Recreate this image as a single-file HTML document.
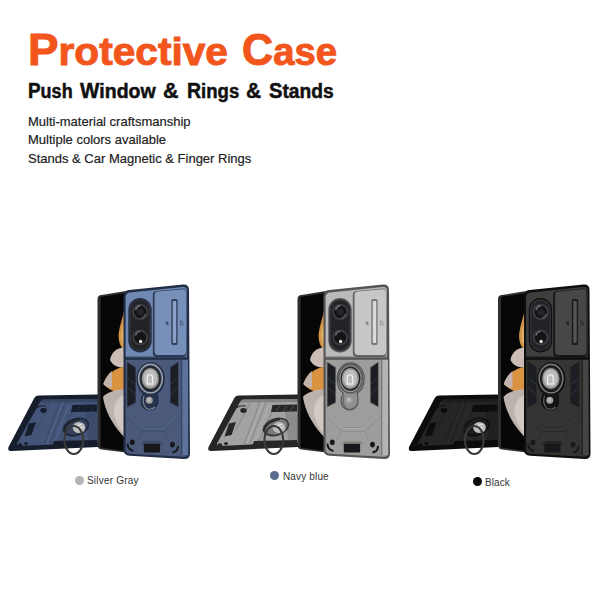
<!DOCTYPE html>
<html><head><meta charset="utf-8">
<style>
html,body{margin:0;padding:0;background:#fff;}
body{width:600px;height:600px;position:relative;overflow:hidden;font-family:"Liberation Sans",sans-serif;}
.t{position:absolute;white-space:nowrap;transform-origin:0 0;}
.h1{top:21.5px;font-size:39.5px;font-weight:bold;color:#f2561d;line-height:56px;-webkit-text-stroke:1px #f2561d;}
.cp{font-size:44.5px;}
.h2{top:77px;font-size:20.3px;font-weight:bold;color:#111;line-height:28px;-webkit-text-stroke:.5px #111;}
.cp2{font-size:21.3px;}
.l{left:28px;font-size:13px;color:#222;line-height:16px;-webkit-text-stroke:.2px #222;}
.lab{font-size:10px;color:#333;line-height:12px;}
.dot{position:absolute;width:9px;height:9px;border-radius:50%;}
svg{position:absolute;left:0;top:0;}
</style></head><body>
<div class="t h1" style="left:27.94px;transform:scaleX(1.0288)"><span class=cp>P</span>rotective</div>
<div class="t h1" style="left:241.53px;transform:scaleX(0.9688)"><span class=cp>C</span>ase</div>
<div class="t h2" style="left:27.61px;transform:scaleX(0.8878)"><span class=cp2>P</span>ush</div>
<div class="t h2" style="left:80.4px;transform:scaleX(0.962)"><span class=cp2>W</span>indow</div>
<div class="t h2" style="left:163.19px;transform:scaleX(1.0071)"><span class=cp2>&amp;</span></div>
<div class="t h2" style="left:186.58px;transform:scaleX(0.9152)"><span class=cp2>R</span>ings</div>
<div class="t h2" style="left:245.72px;transform:scaleX(0.9786)"><span class=cp2>&amp;</span></div>
<div class="t h2" style="left:268.75px;transform:scaleX(0.9463)"><span class=cp2>S</span>tands</div>
<div class="t l" style="top:113.5px">Multi-material craftsmanship</div>
<div class="t l" style="top:131.5px">Multiple colors available</div>
<div class="t l" style="top:150.5px">Stands &amp; Car Magnetic &amp; Finger Rings</div>

<svg width="600" height="600" viewBox="0 0 600 600">
<defs>
<clipPath id="scr"><path d="M99,297 L124,293 L124,451 L99,448.5 Z"/></clipPath>
<clipPath id="cs"><path d="M129,290.5 L183,285 Q188.5,284.5 188.5,290 L189.5,453.5 Q189.5,459 184,458.8 L129.5,455.5 Q124,455 124,449.5 L124,296.5 Q124,291 129,290.5 Z"/></clipPath>
<clipPath id="ly"><path d="M38.5,395.5 L98,394.5 L98,447 L12,451 Q7,451.2 8.5,447 L34,398.5 Q35.5,395.5 38.5,395.5 Z"/></clipPath>
</defs>
<g>
  <!-- ===== lying phone ===== -->
  <g clip-path="url(#ly)">
    <rect x="0" y="390" width="100" height="65" fill="#161d2d"/>
    <path d="M43.5,399.5 L98,399 L98,442.5 L19.5,446 Q16,446 17.5,442.5 L40,402 Q41.5,399.5 43.5,399.5 Z" fill="#45557a"/>
    <path d="M42,399.5 L98,399 L98,402 L40.5,402.5 Z" fill="#34425f" opacity=".8"/>
    <!-- diagonal stripes -->
    <path d="M60,402 L44,444 M66,402 L50,443 M72,412 L58,443 M50,403 L36,430" stroke="#34425f" stroke-width="1.1" opacity=".6" fill="none"/>
    <path d="M63,402 L47,444 M69,405 L54,443" stroke="#6c80a6" stroke-width=".8" opacity=".5" fill="none"/>
    <path d="M72.5,405 L97,404.5 L97,411.5 L71,412 Z" fill="#161d2d"/>
    <path d="M76,411 L80,406 M83,411 L87,406 M90,411 L94,406" stroke="#34425f" stroke-width=".8" opacity=".7"/>
    <path d="M85,412 L97,412 L97,440 L88,440 Z" fill="#34425f" opacity=".55"/>
    <ellipse cx="43.5" cy="410.5" rx="3.2" ry="2.4" fill="#161d2d"/>
    <path d="M36,408 Q40,405 46,406" stroke="#161d2d" stroke-width="1.2" fill="none"/>
    <path d="M29,423.5 L36,422 L31.5,435 L24.5,436.5 Z" fill="#161d2d"/>
    <ellipse cx="20" cy="445" rx="2.3" ry="1.8" fill="#161d2d"/>
    <ellipse cx="26" cy="443.5" rx="2" ry="1.6" fill="#161d2d"/>
    <path d="M54,441 L97,440 L97,447 L52,447 Z" fill="#161d2d"/>
    <!-- ring mount -->
    <ellipse cx="76" cy="427" rx="13.5" ry="9" transform="rotate(-18 76 427)" fill="#161d2d" opacity=".85"/>
    <ellipse cx="76.5" cy="427" rx="11.5" ry="7.3" transform="rotate(-18 76 427)" fill="#34425f"/>
    <ellipse cx="79" cy="427.5" rx="6.3" ry="5.5" fill="#bcbcbc"/>
    <path d="M76,426 L82,424 M76.5,429 L82.5,427.5" stroke="#eee" stroke-width=".9"/>
    <path d="M63,431 Q68,421 80,419" stroke="#222" stroke-width="1.5" fill="none"/>
  </g>
  <ellipse cx="73.8" cy="440" rx="9.4" ry="14" fill="none" stroke="#3a3a3a" stroke-width="2.1"/>
  <!-- ===== back folded phone ===== -->
  <path d="M101.5,295 L126,291 L126,452.5 L101.5,449.5 Q97.5,449 97.5,445 L97.5,299 Q97.5,295.3 101.5,295 Z" fill="#2e2e2e"/>
  <path d="M100.5,297 L126,293 L126,451 L100.5,447.5 Z" fill="#060606"/>
  <g clip-path="url(#scr)">
    <path d="M124,311 C122.5,318 119.5,326 118.6,334 C118.2,342 120.8,347 124,350 Z" fill="#cf9447"/>
    <path d="M124,322 C122.5,327 121.3,331 121.3,336 C121.5,341 122.5,344 124,346 Z" fill="#e2b06a"/>
    <path d="M124,347.5 C117,347.5 111,352.5 110,360 C113,366 118,367.5 124,367.5 Z" fill="#cbbdb6"/>
    <path d="M124,367 C115,368 107,374 103.3,384 C109,390 116,393 124,393 Z" fill="#d9923f"/>
    <path d="M112,371 C108,374 105,379 103.3,384 C106,387 109,388 112,388 Z" fill="#c2b4ad"/>
    <path d="M124,389 C113,390 106,393 103,397 C105,410 111,423 124,437 Z" fill="#bdb3ae"/>
    <path d="M124,395 C117,398 113,405 114,414 C117,424 120,430 124,434 Z" fill="#d2c9c5"/>
  </g>
  <!-- ===== case ===== -->
  <path d="M129,290 L183,284.5 Q189,284 189,290 L190,453.5 Q190,459.3 184,459.1 L129.5,455.8 Q123.5,455.3 123.5,449.5 L123.5,296.5 Q123.5,290.5 129,290 Z" fill="#222e47"/>
  <g clip-path="url(#cs)">
    <path d="M130,292.5 L182.5,287 Q187,286.6 187,290.5 L187,358 L125.6,358 L125.6,297.5 Q125.6,293 130,292.5 Z" fill="#7089b3"/>
    <path d="M125.6,359.5 L187.5,359.5 L188,453 Q188,457 184,456.8 L130,453.8 Q125.6,453.4 125.6,449 Z" fill="#4b5a7a"/>
    <path d="M182,359.5 L188,359.5 L188.2,455 L182,455 Z" fill="#5e739b"/>
    <path d="M181.3,359.5 L182.3,359.5 L182.3,455 L181.3,455 Z" fill="#222e47" opacity=".7"/>
  </g>
  <!-- slider window -->
  <path d="M157,291 L182.5,288.5 Q186.5,288.2 186.5,292 L186.5,353 Q186.5,357 182.5,357 L157,357 Q152.8,357 152.8,353 L152.8,295 Q152.8,291.3 157,291 Z" fill="#222e47" opacity=".85"/>
  <path d="M158,291.5 L182.5,289.2 Q186,289 186,292.5 L186,351.5 Q186,355 182.5,355 L158,355 Q154.6,355 154.6,351.5 L154.6,295 Q154.6,291.8 158,291.5 Z" fill="#7690b9"/>
  <rect x="171.3" y="299" width="6.3" height="46" rx="1.6" fill="#34425f"/>
  <rect x="172.8" y="301" width="3.4" height="42" rx="1" fill="#8aa2c8"/>
  <rect x="166" y="321.5" width="2.4" height="3.5" fill="#34425f" opacity=".8"/>
  <path d="M180.5,320.5 L183,322.5 L183,325 L180.5,325 Z" fill="none" stroke="#34425f" stroke-width=".8" opacity=".8"/>
  <!-- camera -->
  <rect x="128.3" y="298" width="23.4" height="54.5" rx="11.7" fill="#222e47"/>
  <rect x="129.5" y="299.2" width="21" height="52" rx="10.5" fill="#303134"/>
  <rect x="131" y="300.8" width="18" height="48.8" rx="9" fill="#222326"/>
  <circle cx="140.3" cy="312" r="8" fill="#3e4044"/>
  <circle cx="140.3" cy="312" r="6.3" fill="#141416"/>
  <circle cx="140.3" cy="312" r="3.6" fill="#232427"/>
  <path d="M135.6,310 Q136.6,306.2 140.3,305.7" stroke="#6e7074" stroke-width="1.5" fill="none"/>
  <path d="M145.5,314 Q144.6,317.5 141.5,318" stroke="#55575b" stroke-width="1.2" fill="none"/>
  <circle cx="140.2" cy="337.5" r="7.8" fill="#3e4044"/>
  <circle cx="140.2" cy="337.5" r="6.1" fill="#141416"/>
  <path d="M135.5,335.5 Q136.5,331.8 140.2,331.4" stroke="#6e7074" stroke-width="1.4" fill="none"/>
  <circle cx="140.6" cy="341.4" r="1.6" fill="#f2f2f2"/>
  <!-- divider -->
  <path d="M124.5,356.5 L188.5,356.5 L188.5,359.8 L124.5,359.8 Z" fill="#222e47" opacity=".75"/>
  <!-- strips -->
  <path d="M126.8,361.5 L136,367 L136,403 L126.8,407.5 Z" fill="#222e47" opacity=".6"/>
  <path d="M127.5,362.5 L135.3,367.8 L135.3,402.3 L127.5,406.5 Z" fill="#1c1e23"/>
  <path d="M178.8,361.5 L170,367 L170,403 L178.8,407.5 Z" fill="#222e47" opacity=".6"/>
  <path d="M178,362.5 L170.7,367.8 L170.7,402.3 L178,406.5 Z" fill="#1c1e23"/>
  <path d="M128,378 L135,384 M128,388 L135,394 M178,378 L171,384 M178,388 L171,394" stroke="#3a3d45" stroke-width=".8"/>
  <!-- chevrons -->
  <path d="M126,408.5 L144,427.5 L162.5,427.5 L181,409.5 M126,415.5 L141.5,431.5 L165,431.5 L181,416.5 M141.5,431.5 L137,440 M165,431.5 L169,441" stroke="#34425f" stroke-width="1" fill="none" opacity=".45"/>
  <path d="M126,409.5 L144,428.5 L162.5,428.5 L181,410.5" stroke="#6c80a6" stroke-width=".7" fill="none" opacity=".5"/>
  <!-- ring -->
  <path d="M150.7,362.8 C158.5,362.8 164.2,370 164.2,379 C164.2,386 160.5,391 157,393.5 C158,395.5 158,398 158,401 C158,406 154,410 149.5,410 C145,410 141,406 141,401 C141,398 142,395.5 143.5,393.5 C140,391 137.2,386 137.2,379 C137.2,370 143,362.8 150.7,362.8 Z" fill="#27324c" stroke="#222e47" stroke-width="1.2"/>
  <ellipse cx="150.5" cy="378.6" rx="11.8" ry="14.2" fill="none" stroke="#9aa0a8" stroke-width="1.6"/>
  <ellipse cx="150.5" cy="378.6" rx="10" ry="12.2" fill="#262626"/>
  <ellipse cx="150.3" cy="378.5" rx="8.6" ry="10.6" fill="#9a9a9a"/>
  <ellipse cx="150.3" cy="378.2" rx="6.8" ry="8.6" fill="#bdbdbd"/>
  <path d="M147.2,383.5 L147.2,377.5 Q147.2,374.8 149.9,374.8 Q152.7,374.8 152.7,377.5 L152.7,383.5" fill="none" stroke="#f4f4f4" stroke-width="1.1"/>
  <path d="M146.2,384 L153.8,384" stroke="#f4f4f4" stroke-width="1"/>
  <path d="M144,396 Q141.5,403 146,408 Q151,411 155,407" stroke="#9aa0a8" stroke-width="1.1" fill="none" opacity=".8"/>
  <circle cx="149.3" cy="400.3" r="3.5" fill="#a0a0a0"/>
  <circle cx="148.8" cy="399.8" r="1.8" fill="#bdbdbd"/>
  <!-- bottom -->
  <path d="M141,444.5 L144,441 L160.5,441 L163.5,444.5 Z" fill="#34425f" opacity=".6"/>
  <rect x="143.8" y="443.8" width="16.3" height="8.7" rx="1" fill="#17181b"/>
  <ellipse cx="132.3" cy="442.3" rx="2.4" ry="2.8" fill="#17181b"/>
  <path d="M127.5,443.5 Q127.5,449.5 133.5,451" stroke="#17181b" stroke-width="2" fill="none"/>
  <ellipse cx="172.5" cy="444.6" rx="2.4" ry="2.8" fill="#17181b"/>
  <path d="M178,446 Q178,451.5 172.5,452.5" stroke="#17181b" stroke-width="2" fill="none"/>
</g>
<g transform="translate(200,0)">
  <!-- ===== lying phone ===== -->
  <g clip-path="url(#ly)">
    <rect x="0" y="390" width="100" height="65" fill="#262626"/>
    <path d="M43.5,399.5 L98,399 L98,442.5 L19.5,446 Q16,446 17.5,442.5 L40,402 Q41.5,399.5 43.5,399.5 Z" fill="#a2a2a2"/>
    <path d="M42,399.5 L98,399 L98,402 L40.5,402.5 Z" fill="#7a7a7a" opacity=".8"/>
    <!-- diagonal stripes -->
    <path d="M60,402 L44,444 M66,402 L50,443 M72,412 L58,443 M50,403 L36,430" stroke="#7a7a7a" stroke-width="1.1" opacity=".6" fill="none"/>
    <path d="M63,402 L47,444 M69,405 L54,443" stroke="#c8c8c8" stroke-width=".8" opacity=".5" fill="none"/>
    <path d="M72.5,405 L97,404.5 L97,411.5 L71,412 Z" fill="#262626"/>
    <path d="M76,411 L80,406 M83,411 L87,406 M90,411 L94,406" stroke="#7a7a7a" stroke-width=".8" opacity=".7"/>
    <path d="M85,412 L97,412 L97,440 L88,440 Z" fill="#7a7a7a" opacity=".55"/>
    <ellipse cx="43.5" cy="410.5" rx="3.2" ry="2.4" fill="#262626"/>
    <path d="M36,408 Q40,405 46,406" stroke="#262626" stroke-width="1.2" fill="none"/>
    <path d="M29,423.5 L36,422 L31.5,435 L24.5,436.5 Z" fill="#262626"/>
    <ellipse cx="20" cy="445" rx="2.3" ry="1.8" fill="#262626"/>
    <ellipse cx="26" cy="443.5" rx="2" ry="1.6" fill="#262626"/>
    <path d="M54,441 L97,440 L97,447 L52,447 Z" fill="#262626"/>
    <!-- ring mount -->
    <ellipse cx="76" cy="427" rx="13.5" ry="9" transform="rotate(-18 76 427)" fill="#262626" opacity=".85"/>
    <ellipse cx="76.5" cy="427" rx="11.5" ry="7.3" transform="rotate(-18 76 427)" fill="#7a7a7a"/>
    <ellipse cx="79" cy="427.5" rx="6.3" ry="5.5" fill="#bcbcbc"/>
    <path d="M76,426 L82,424 M76.5,429 L82.5,427.5" stroke="#eee" stroke-width=".9"/>
    <path d="M63,431 Q68,421 80,419" stroke="#222" stroke-width="1.5" fill="none"/>
  </g>
  <ellipse cx="73.8" cy="440" rx="9.4" ry="14" fill="none" stroke="#3a3a3a" stroke-width="2.1"/>
  <!-- ===== back folded phone ===== -->
  <path d="M101.5,295 L126,291 L126,452.5 L101.5,449.5 Q97.5,449 97.5,445 L97.5,299 Q97.5,295.3 101.5,295 Z" fill="#2e2e2e"/>
  <path d="M100.5,297 L126,293 L126,451 L100.5,447.5 Z" fill="#060606"/>
  <g clip-path="url(#scr)">
    <path d="M124,311 C122.5,318 119.5,326 118.6,334 C118.2,342 120.8,347 124,350 Z" fill="#cf9447"/>
    <path d="M124,322 C122.5,327 121.3,331 121.3,336 C121.5,341 122.5,344 124,346 Z" fill="#e2b06a"/>
    <path d="M124,347.5 C117,347.5 111,352.5 110,360 C113,366 118,367.5 124,367.5 Z" fill="#cbbdb6"/>
    <path d="M124,367 C115,368 107,374 103.3,384 C109,390 116,393 124,393 Z" fill="#d9923f"/>
    <path d="M112,371 C108,374 105,379 103.3,384 C106,387 109,388 112,388 Z" fill="#c2b4ad"/>
    <path d="M124,389 C113,390 106,393 103,397 C105,410 111,423 124,437 Z" fill="#bdb3ae"/>
    <path d="M124,395 C117,398 113,405 114,414 C117,424 120,430 124,434 Z" fill="#d2c9c5"/>
  </g>
  <!-- ===== case ===== -->
  <path d="M129,290 L183,284.5 Q189,284 189,290 L190,453.5 Q190,459.3 184,459.1 L129.5,455.8 Q123.5,455.3 123.5,449.5 L123.5,296.5 Q123.5,290.5 129,290 Z" fill="#555"/>
  <g clip-path="url(#cs)">
    <path d="M130,292.5 L182.5,287 Q187,286.6 187,290.5 L187,358 L125.6,358 L125.6,297.5 Q125.6,293 130,292.5 Z" fill="#bababa"/>
    <path d="M125.6,359.5 L187.5,359.5 L188,453 Q188,457 184,456.8 L130,453.8 Q125.6,453.4 125.6,449 Z" fill="#9d9d9b"/>
    <path d="M182,359.5 L188,359.5 L188.2,455 L182,455 Z" fill="#b4b4b4"/>
    <path d="M181.3,359.5 L182.3,359.5 L182.3,455 L181.3,455 Z" fill="#555" opacity=".7"/>
  </g>
  <!-- slider window -->
  <path d="M157,291 L182.5,288.5 Q186.5,288.2 186.5,292 L186.5,353 Q186.5,357 182.5,357 L157,357 Q152.8,357 152.8,353 L152.8,295 Q152.8,291.3 157,291 Z" fill="#555" opacity=".85"/>
  <path d="M158,291.5 L182.5,289.2 Q186,289 186,292.5 L186,351.5 Q186,355 182.5,355 L158,355 Q154.6,355 154.6,351.5 L154.6,295 Q154.6,291.8 158,291.5 Z" fill="#c7c7c5"/>
  <rect x="171.3" y="299" width="6.3" height="46" rx="1.6" fill="#7a7a7a"/>
  <rect x="172.8" y="301" width="3.4" height="42" rx="1" fill="#dadada"/>
  <rect x="166" y="321.5" width="2.4" height="3.5" fill="#7a7a7a" opacity=".8"/>
  <path d="M180.5,320.5 L183,322.5 L183,325 L180.5,325 Z" fill="none" stroke="#7a7a7a" stroke-width=".8" opacity=".8"/>
  <!-- camera -->
  <rect x="128.3" y="298" width="23.4" height="54.5" rx="11.7" fill="#555"/>
  <rect x="129.5" y="299.2" width="21" height="52" rx="10.5" fill="#303134"/>
  <rect x="131" y="300.8" width="18" height="48.8" rx="9" fill="#222326"/>
  <circle cx="140.3" cy="312" r="8" fill="#3e4044"/>
  <circle cx="140.3" cy="312" r="6.3" fill="#141416"/>
  <circle cx="140.3" cy="312" r="3.6" fill="#232427"/>
  <path d="M135.6,310 Q136.6,306.2 140.3,305.7" stroke="#6e7074" stroke-width="1.5" fill="none"/>
  <path d="M145.5,314 Q144.6,317.5 141.5,318" stroke="#55575b" stroke-width="1.2" fill="none"/>
  <circle cx="140.2" cy="337.5" r="7.8" fill="#3e4044"/>
  <circle cx="140.2" cy="337.5" r="6.1" fill="#141416"/>
  <path d="M135.5,335.5 Q136.5,331.8 140.2,331.4" stroke="#6e7074" stroke-width="1.4" fill="none"/>
  <circle cx="140.6" cy="341.4" r="1.6" fill="#f2f2f2"/>
  <!-- divider -->
  <path d="M124.5,356.5 L188.5,356.5 L188.5,359.8 L124.5,359.8 Z" fill="#555" opacity=".75"/>
  <!-- strips -->
  <path d="M126.8,361.5 L136,367 L136,403 L126.8,407.5 Z" fill="#555" opacity=".6"/>
  <path d="M127.5,362.5 L135.3,367.8 L135.3,402.3 L127.5,406.5 Z" fill="#1c1e23"/>
  <path d="M178.8,361.5 L170,367 L170,403 L178.8,407.5 Z" fill="#555" opacity=".6"/>
  <path d="M178,362.5 L170.7,367.8 L170.7,402.3 L178,406.5 Z" fill="#1c1e23"/>
  <path d="M128,378 L135,384 M128,388 L135,394 M178,378 L171,384 M178,388 L171,394" stroke="#3a3d45" stroke-width=".8"/>
  <!-- chevrons -->
  <path d="M126,408.5 L144,427.5 L162.5,427.5 L181,409.5 M126,415.5 L141.5,431.5 L165,431.5 L181,416.5 M141.5,431.5 L137,440 M165,431.5 L169,441" stroke="#7a7a7a" stroke-width="1" fill="none" opacity=".45"/>
  <path d="M126,409.5 L144,428.5 L162.5,428.5 L181,410.5" stroke="#c8c8c8" stroke-width=".7" fill="none" opacity=".5"/>
  <!-- ring -->
  <path d="M150.7,362.8 C158.5,362.8 164.2,370 164.2,379 C164.2,386 160.5,391 157,393.5 C158,395.5 158,398 158,401 C158,406 154,410 149.5,410 C145,410 141,406 141,401 C141,398 142,395.5 143.5,393.5 C140,391 137.2,386 137.2,379 C137.2,370 143,362.8 150.7,362.8 Z" fill="#909090" stroke="#555" stroke-width="1.2"/>
  <ellipse cx="150.5" cy="378.6" rx="11.8" ry="14.2" fill="none" stroke="#5a5a5a" stroke-width="1.6"/>
  <ellipse cx="150.5" cy="378.6" rx="10" ry="12.2" fill="#262626"/>
  <ellipse cx="150.3" cy="378.5" rx="8.6" ry="10.6" fill="#9a9a9a"/>
  <ellipse cx="150.3" cy="378.2" rx="6.8" ry="8.6" fill="#bdbdbd"/>
  <path d="M147.2,383.5 L147.2,377.5 Q147.2,374.8 149.9,374.8 Q152.7,374.8 152.7,377.5 L152.7,383.5" fill="none" stroke="#f4f4f4" stroke-width="1.1"/>
  <path d="M146.2,384 L153.8,384" stroke="#f4f4f4" stroke-width="1"/>
  <path d="M144,396 Q141.5,403 146,408 Q151,411 155,407" stroke="#5a5a5a" stroke-width="1.1" fill="none" opacity=".8"/>
  <circle cx="149.3" cy="400.3" r="3.5" fill="#a0a0a0"/>
  <circle cx="148.8" cy="399.8" r="1.8" fill="#bdbdbd"/>
  <!-- bottom -->
  <path d="M141,444.5 L144,441 L160.5,441 L163.5,444.5 Z" fill="#7a7a7a" opacity=".6"/>
  <rect x="143.8" y="443.8" width="16.3" height="8.7" rx="1" fill="#17181b"/>
  <ellipse cx="132.3" cy="442.3" rx="2.4" ry="2.8" fill="#17181b"/>
  <path d="M127.5,443.5 Q127.5,449.5 133.5,451" stroke="#17181b" stroke-width="2" fill="none"/>
  <ellipse cx="172.5" cy="444.6" rx="2.4" ry="2.8" fill="#17181b"/>
  <path d="M178,446 Q178,451.5 172.5,452.5" stroke="#17181b" stroke-width="2" fill="none"/>
</g>
<g transform="translate(400.5,0)">
  <!-- ===== lying phone ===== -->
  <g clip-path="url(#ly)">
    <rect x="0" y="390" width="100" height="65" fill="#0c0c0c"/>
    <path d="M43.5,399.5 L98,399 L98,442.5 L19.5,446 Q16,446 17.5,442.5 L40,402 Q41.5,399.5 43.5,399.5 Z" fill="#262626"/>
    <path d="M42,399.5 L98,399 L98,402 L40.5,402.5 Z" fill="#1c1c1c" opacity=".8"/>
    <!-- diagonal stripes -->
    <path d="M60,402 L44,444 M66,402 L50,443 M72,412 L58,443 M50,403 L36,430" stroke="#1c1c1c" stroke-width="1.1" opacity=".6" fill="none"/>
    <path d="M63,402 L47,444 M69,405 L54,443" stroke="#3a3a3a" stroke-width=".8" opacity=".5" fill="none"/>
    <path d="M72.5,405 L97,404.5 L97,411.5 L71,412 Z" fill="#0c0c0c"/>
    <path d="M76,411 L80,406 M83,411 L87,406 M90,411 L94,406" stroke="#1c1c1c" stroke-width=".8" opacity=".7"/>
    <path d="M85,412 L97,412 L97,440 L88,440 Z" fill="#1c1c1c" opacity=".55"/>
    <ellipse cx="43.5" cy="410.5" rx="3.2" ry="2.4" fill="#0c0c0c"/>
    <path d="M36,408 Q40,405 46,406" stroke="#0c0c0c" stroke-width="1.2" fill="none"/>
    <path d="M29,423.5 L36,422 L31.5,435 L24.5,436.5 Z" fill="#0c0c0c"/>
    <ellipse cx="20" cy="445" rx="2.3" ry="1.8" fill="#0c0c0c"/>
    <ellipse cx="26" cy="443.5" rx="2" ry="1.6" fill="#0c0c0c"/>
    <path d="M54,441 L97,440 L97,447 L52,447 Z" fill="#0c0c0c"/>
    <!-- ring mount -->
    <ellipse cx="76" cy="427" rx="13.5" ry="9" transform="rotate(-18 76 427)" fill="#0c0c0c" opacity=".85"/>
    <ellipse cx="76.5" cy="427" rx="11.5" ry="7.3" transform="rotate(-18 76 427)" fill="#1c1c1c"/>
    <ellipse cx="79" cy="427.5" rx="6.3" ry="5.5" fill="#bcbcbc"/>
    <path d="M76,426 L82,424 M76.5,429 L82.5,427.5" stroke="#eee" stroke-width=".9"/>
    <path d="M63,431 Q68,421 80,419" stroke="#222" stroke-width="1.5" fill="none"/>
  </g>
  <ellipse cx="73.8" cy="440" rx="9.4" ry="14" fill="none" stroke="#3a3a3a" stroke-width="2.1"/>
  <!-- ===== back folded phone ===== -->
  <path d="M101.5,295 L126,291 L126,452.5 L101.5,449.5 Q97.5,449 97.5,445 L97.5,299 Q97.5,295.3 101.5,295 Z" fill="#2e2e2e"/>
  <path d="M100.5,297 L126,293 L126,451 L100.5,447.5 Z" fill="#060606"/>
  <g clip-path="url(#scr)">
    <path d="M124,311 C122.5,318 119.5,326 118.6,334 C118.2,342 120.8,347 124,350 Z" fill="#cf9447"/>
    <path d="M124,322 C122.5,327 121.3,331 121.3,336 C121.5,341 122.5,344 124,346 Z" fill="#e2b06a"/>
    <path d="M124,347.5 C117,347.5 111,352.5 110,360 C113,366 118,367.5 124,367.5 Z" fill="#cbbdb6"/>
    <path d="M124,367 C115,368 107,374 103.3,384 C109,390 116,393 124,393 Z" fill="#d9923f"/>
    <path d="M112,371 C108,374 105,379 103.3,384 C106,387 109,388 112,388 Z" fill="#c2b4ad"/>
    <path d="M124,389 C113,390 106,393 103,397 C105,410 111,423 124,437 Z" fill="#bdb3ae"/>
    <path d="M124,395 C117,398 113,405 114,414 C117,424 120,430 124,434 Z" fill="#d2c9c5"/>
  </g>
  <!-- ===== case ===== -->
  <path d="M129,290 L183,284.5 Q189,284 189,290 L190,453.5 Q190,459.3 184,459.1 L129.5,455.8 Q123.5,455.3 123.5,449.5 L123.5,296.5 Q123.5,290.5 129,290 Z" fill="#0f0f0f"/>
  <g clip-path="url(#cs)">
    <path d="M130,292.5 L182.5,287 Q187,286.6 187,290.5 L187,358 L125.6,358 L125.6,297.5 Q125.6,293 130,292.5 Z" fill="#3e3e3d"/>
    <path d="M125.6,359.5 L187.5,359.5 L188,453 Q188,457 184,456.8 L130,453.8 Q125.6,453.4 125.6,449 Z" fill="#363433"/>
    <path d="M182,359.5 L188,359.5 L188.2,455 L182,455 Z" fill="#454545"/>
    <path d="M181.3,359.5 L182.3,359.5 L182.3,455 L181.3,455 Z" fill="#0f0f0f" opacity=".7"/>
  </g>
  <!-- slider window -->
  <path d="M157,291 L182.5,288.5 Q186.5,288.2 186.5,292 L186.5,353 Q186.5,357 182.5,357 L157,357 Q152.8,357 152.8,353 L152.8,295 Q152.8,291.3 157,291 Z" fill="#0f0f0f" opacity=".85"/>
  <path d="M158,291.5 L182.5,289.2 Q186,289 186,292.5 L186,351.5 Q186,355 182.5,355 L158,355 Q154.6,355 154.6,351.5 L154.6,295 Q154.6,291.8 158,291.5 Z" fill="#474745"/>
  <rect x="171.3" y="299" width="6.3" height="46" rx="1.6" fill="#1c1c1c"/>
  <rect x="172.8" y="301" width="3.4" height="42" rx="1" fill="#555"/>
  <rect x="166" y="321.5" width="2.4" height="3.5" fill="#1c1c1c" opacity=".8"/>
  <path d="M180.5,320.5 L183,322.5 L183,325 L180.5,325 Z" fill="none" stroke="#1c1c1c" stroke-width=".8" opacity=".8"/>
  <!-- camera -->
  <rect x="128.3" y="298" width="23.4" height="54.5" rx="11.7" fill="#0f0f0f"/>
  <rect x="129.5" y="299.2" width="21" height="52" rx="10.5" fill="#303134"/>
  <rect x="131" y="300.8" width="18" height="48.8" rx="9" fill="#222326"/>
  <circle cx="140.3" cy="312" r="8" fill="#3e4044"/>
  <circle cx="140.3" cy="312" r="6.3" fill="#141416"/>
  <circle cx="140.3" cy="312" r="3.6" fill="#232427"/>
  <path d="M135.6,310 Q136.6,306.2 140.3,305.7" stroke="#6e7074" stroke-width="1.5" fill="none"/>
  <path d="M145.5,314 Q144.6,317.5 141.5,318" stroke="#55575b" stroke-width="1.2" fill="none"/>
  <circle cx="140.2" cy="337.5" r="7.8" fill="#3e4044"/>
  <circle cx="140.2" cy="337.5" r="6.1" fill="#141416"/>
  <path d="M135.5,335.5 Q136.5,331.8 140.2,331.4" stroke="#6e7074" stroke-width="1.4" fill="none"/>
  <circle cx="140.6" cy="341.4" r="1.6" fill="#f2f2f2"/>
  <!-- divider -->
  <path d="M124.5,356.5 L188.5,356.5 L188.5,359.8 L124.5,359.8 Z" fill="#0f0f0f" opacity=".75"/>
  <!-- strips -->
  <path d="M126.8,361.5 L136,367 L136,403 L126.8,407.5 Z" fill="#0f0f0f" opacity=".6"/>
  <path d="M127.5,362.5 L135.3,367.8 L135.3,402.3 L127.5,406.5 Z" fill="#1c1e23"/>
  <path d="M178.8,361.5 L170,367 L170,403 L178.8,407.5 Z" fill="#0f0f0f" opacity=".6"/>
  <path d="M178,362.5 L170.7,367.8 L170.7,402.3 L178,406.5 Z" fill="#1c1e23"/>
  <path d="M128,378 L135,384 M128,388 L135,394 M178,378 L171,384 M178,388 L171,394" stroke="#3a3d45" stroke-width=".8"/>
  <!-- chevrons -->
  <path d="M126,408.5 L144,427.5 L162.5,427.5 L181,409.5 M126,415.5 L141.5,431.5 L165,431.5 L181,416.5 M141.5,431.5 L137,440 M165,431.5 L169,441" stroke="#1c1c1c" stroke-width="1" fill="none" opacity=".45"/>
  <path d="M126,409.5 L144,428.5 L162.5,428.5 L181,410.5" stroke="#3a3a3a" stroke-width=".7" fill="none" opacity=".5"/>
  <!-- ring -->
  <path d="M150.7,362.8 C158.5,362.8 164.2,370 164.2,379 C164.2,386 160.5,391 157,393.5 C158,395.5 158,398 158,401 C158,406 154,410 149.5,410 C145,410 141,406 141,401 C141,398 142,395.5 143.5,393.5 C140,391 137.2,386 137.2,379 C137.2,370 143,362.8 150.7,362.8 Z" fill="#141414" stroke="#0f0f0f" stroke-width="1.2"/>
  <ellipse cx="150.5" cy="378.6" rx="11.8" ry="14.2" fill="none" stroke="#777" stroke-width="1.6"/>
  <ellipse cx="150.5" cy="378.6" rx="10" ry="12.2" fill="#262626"/>
  <ellipse cx="150.3" cy="378.5" rx="8.6" ry="10.6" fill="#9a9a9a"/>
  <ellipse cx="150.3" cy="378.2" rx="6.8" ry="8.6" fill="#bdbdbd"/>
  <path d="M147.2,383.5 L147.2,377.5 Q147.2,374.8 149.9,374.8 Q152.7,374.8 152.7,377.5 L152.7,383.5" fill="none" stroke="#f4f4f4" stroke-width="1.1"/>
  <path d="M146.2,384 L153.8,384" stroke="#f4f4f4" stroke-width="1"/>
  <path d="M144,396 Q141.5,403 146,408 Q151,411 155,407" stroke="#777" stroke-width="1.1" fill="none" opacity=".8"/>
  <circle cx="149.3" cy="400.3" r="3.5" fill="#a0a0a0"/>
  <circle cx="148.8" cy="399.8" r="1.8" fill="#bdbdbd"/>
  <!-- bottom -->
  <path d="M141,444.5 L144,441 L160.5,441 L163.5,444.5 Z" fill="#1c1c1c" opacity=".6"/>
  <rect x="143.8" y="443.8" width="16.3" height="8.7" rx="1" fill="#17181b"/>
  <ellipse cx="132.3" cy="442.3" rx="2.4" ry="2.8" fill="#17181b"/>
  <path d="M127.5,443.5 Q127.5,449.5 133.5,451" stroke="#17181b" stroke-width="2" fill="none"/>
  <ellipse cx="172.5" cy="444.6" rx="2.4" ry="2.8" fill="#17181b"/>
  <path d="M178,446 Q178,451.5 172.5,452.5" stroke="#17181b" stroke-width="2" fill="none"/>
</g>
</svg>

<div class="dot" style="left:75.3px;top:475.8px;background:#b3b3b3"></div>
<div class="t lab" style="left:87px;top:475.2px;letter-spacing:.2px">Silver Gray</div>
<div class="dot" style="left:269.8px;top:471px;background:#5a6b8c"></div>
<div class="t lab" style="left:283px;top:470.5px;letter-spacing:.15px">Navy blue</div>
<div class="dot" style="left:473px;top:477px;background:#0a0a0a"></div>
<div class="t lab" style="left:485px;top:477px;letter-spacing:.1px">Black</div>
</body></html>
